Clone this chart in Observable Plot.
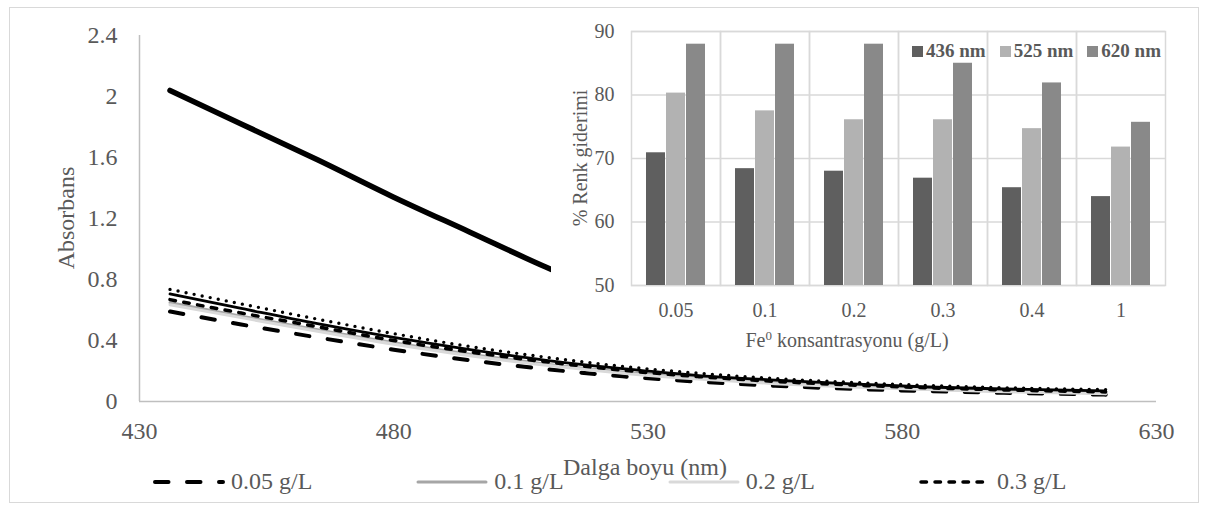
<!DOCTYPE html>
<html>
<head>
<meta charset="utf-8">
<script src="https://cdn.jsdelivr.net/npm/d3@7"></script>
<script src="https://cdn.jsdelivr.net/npm/@observablehq/plot@0.6"></script>
<style>
  html, body { margin: 0; padding: 0; background: #fff; }
  #root { position: relative; width: 1209px; height: 512px; overflow: hidden; font-family: "Liberation Serif", "Times New Roman", serif; color: #595959; }
  .abs { position: absolute; }
  #border { left: 9px; top: 7px; width: 1190px; height: 496px; border: 1px solid #d9d9d9; box-sizing: border-box; }
  #main { left: 0; top: 0; }
  #inset { left: 551px; top: 10px; background: #fff; }
  .title { white-space: nowrap; }
  #legend { left: 153px; top: 468px; display: flex; gap: 104px; align-items: center; font-size: 24px; }
  .entry { display: flex; align-items: center; }
  .entry svg { margin-right: 4px; }
  #ilegend { left: 912px; top: 40px; display: flex; gap: 14px; align-items: center; font-size: 19px; font-weight: bold; }
  .ientry { display: flex; align-items: center; }
  .sw { width: 11px; height: 11px; margin-right: 3px; }
</style>
</head>
<body>
<div id="root">
  <div id="border" class="abs"></div>
</div>
<script>
// ---- Main chart data: absorbance spectra ----
const wavelengths = [436, 450, 465, 480, 495, 510, 525, 540, 555, 570, 585, 600, 620];
const abs005 = [0.59, 0.505, 0.42, 0.34, 0.27, 0.212, 0.165, 0.13, 0.103, 0.083, 0.068, 0.057, 0.045];
const abs01  = [0.648, 0.56, 0.47, 0.385, 0.31, 0.245, 0.193, 0.153, 0.122, 0.1, 0.082, 0.068, 0.055];
const abs02  = [0.635, 0.55, 0.46, 0.375, 0.30, 0.237, 0.186, 0.147, 0.117, 0.095, 0.078, 0.064, 0.05];
const abs03  = [0.668, 0.58, 0.49, 0.40, 0.325, 0.26, 0.205, 0.163, 0.132, 0.108, 0.09, 0.076, 0.063];
const abs04  = [0.735, 0.64, 0.54, 0.445, 0.36, 0.29, 0.23, 0.185, 0.15, 0.125, 0.105, 0.09, 0.078];
const abs1   = [0.705, 0.61, 0.51, 0.42, 0.34, 0.27, 0.215, 0.17, 0.14, 0.115, 0.095, 0.082, 0.07];
const rawWavelengths = [436, 450, 465, 480, 495, 510, 520];
const absRaw = [2.04, 1.82, 1.585, 1.34, 1.11, 0.88, 0.74];
const xTicks = [430, 480, 530, 580, 630];
const yTicks = [0, 0.4, 0.8, 1.2, 1.6, 2, 2.4];
const legendNames = ["0.05 g/L", "0.1 g/L", "0.2 g/L", "0.3 g/L"];

// ---- Inset data: % colour removal ----
const concentrations = ["0.05", "0.1", "0.2", "0.3", "0.4", "1"];
const bandNames = ["436 nm", "525 nm", "620 nm"];
const removal436 = [70.9, 68.4, 68.0, 66.9, 65.4, 64.0];
const removal525 = [80.3, 77.5, 76.1, 76.1, 74.7, 71.8];
const removal620 = [88.0, 88.0, 88.0, 85.0, 81.9, 75.7];
const insetTicks = [50, 60, 70, 80, 90];

// ---- styles (kept apart from data) ----
const lineStyles = {
  "0.05 g/L": {stroke: "#000", strokeWidth: 4, strokeDasharray: "13.5,18.5"},
  "0.1 g/L":  {stroke: "#a6a6a6", strokeWidth: 3},
  "0.2 g/L":  {stroke: "#d9d9d9", strokeWidth: 3},
  "0.3 g/L":  {stroke: "#000", strokeWidth: 3.5, strokeDasharray: "5.5,8.5"},
  "0.4 g/L":  {stroke: "#000", strokeWidth: 3.4, strokeDasharray: "0,8.2"},
  "1 g/L":    {stroke: "#000", strokeWidth: 2.8},
  "raw":      {stroke: "#000", strokeWidth: 5.5}
};
const barColors = {"436 nm": "#5f5f5f", "525 nm": "#b2b2b2", "620 nm": "#898989"};

const series = [
  {name: "0.05 g/L", x: wavelengths, y: abs005},
  {name: "0.1 g/L", x: wavelengths, y: abs01},
  {name: "0.2 g/L", x: wavelengths, y: abs02},
  {name: "0.3 g/L", x: wavelengths, y: abs03},
  {name: "1 g/L", x: wavelengths, y: abs1},
  {name: "0.4 g/L", x: wavelengths, y: abs04},
  {name: "raw", x: rawWavelengths, y: absRaw}
];

const font = "'Liberation Serif', 'Times New Roman', serif";
const root = document.getElementById("root");

const main = Plot.plot({
  width: 1209, height: 512,
  marginLeft: 139, marginRight: 53, marginTop: 35, marginBottom: 111,
  style: {fontFamily: font, fontSize: "24px", color: "#595959", background: "transparent", overflow: "visible"},
  x: {domain: [430, 630], ticks: xTicks, tickSize: 0, tickPadding: 20, label: null, tickFormat: d => String(d)},
  y: {domain: [0, 2.4], ticks: yTicks, tickSize: 0, tickPadding: 22, label: null, tickFormat: d => String(+d.toFixed(1))},
  marks: [
    Plot.ruleX([430], {stroke: "#bfbfbf", strokeWidth: 1.5}),
    Plot.ruleY([0], {stroke: "#bfbfbf", strokeWidth: 1.5}),
    ...series.map(s => Plot.line(s.x.map((w, i) => ({w, a: s.y[i]})), {
      x: "w", y: "a", curve: "monotone-x", strokeLinecap: "round", strokeLinejoin: "round",
      ...lineStyles[s.name]
    }))
  ]
});
main.classList.add("abs");
main.id = "main";
root.appendChild(main);

// axis titles (main)
function addText(html, css) {
  const d = document.createElement("div");
  d.className = "abs title";
  d.innerHTML = html;
  Object.assign(d.style, css);
  root.appendChild(d);
  return d;
}
addText("Absorbans", {left: "66px", top: "218px", fontSize: "24px", transform: "translate(-50%,-50%) rotate(-90deg)"});
addText("Dalga boyu (nm)", {left: "645px", top: "467px", fontSize: "24px", transform: "translate(-50%,-50%)"});

// legend (main)
const legend = document.createElement("div");
legend.id = "legend"; legend.className = "abs";
legendNames.forEach(name => {
  const st = lineStyles[name];
  const e = document.createElement("div");
  e.className = "entry";
  e.innerHTML = `<svg width="74" height="12"><line x1="2" y1="6" x2="70" y2="6" stroke="${st.stroke}" stroke-width="${st.strokeWidth}" stroke-linecap="round" ${st.strokeDasharray ? `stroke-dasharray="${st.strokeDasharray}"` : ""}/></svg><span>${name}</span>`;
  legend.appendChild(e);
});
root.appendChild(legend);

// ---- inset bar chart ----
const barData = [];
concentrations.forEach((c, i) => {
  barData.push({c, band: bandNames[0], v: removal436[i]});
  barData.push({c, band: bandNames[1], v: removal525[i]});
  barData.push({c, band: bandNames[2], v: removal620[i]});
});

const inset = Plot.plot({
  width: 640, height: 343,
  marginLeft: 78, marginRight: 24, marginTop: 21, marginBottom: 68,
  style: {fontFamily: font, fontSize: "20px", color: "#595959", background: "#fff", overflow: "visible"},
  facet: {data: barData, x: "c"},
  fx: {domain: concentrations, padding: 0, axis: "bottom", tickSize: 0, tickPadding: 17, label: null},
  x: {domain: bandNames, paddingInner: 0.05, paddingOuter: 0.74, axis: null},
  y: {domain: [50, 90], ticks: insetTicks, tickSize: 0, tickPadding: 17, label: null},
  marks: [
    Plot.gridY(insetTicks, {stroke: "#d9d9d9", strokeOpacity: 1, strokeWidth: 1.5}),
    Plot.frame({stroke: "#d9d9d9", strokeWidth: 1.5}),
    Plot.barY(barData, {x: "band", y1: 50, y2: "v", fill: d => barColors[d.band]})
  ]
});
inset.classList.add("abs");
inset.id = "inset";
root.appendChild(inset);

addText("% Renk giderimi", {left: "580px", top: "158px", fontSize: "20px", transform: "translate(-50%,-50%) rotate(-90deg)"});
addText("Fe<sup style='font-size:13px;vertical-align:7px;line-height:0'>0</sup> konsantrasyonu (g/L)", {left: "847px", top: "340px", fontSize: "20px", transform: "translate(-50%,-50%)"});

const ilegend = document.createElement("div");
ilegend.id = "ilegend"; ilegend.className = "abs";
bandNames.forEach(b => {
  const e = document.createElement("div");
  e.className = "ientry";
  e.innerHTML = `<div class="sw" style="background:${barColors[b]}"></div><span>${b}</span>`;
  ilegend.appendChild(e);
});
root.appendChild(ilegend);
</script>
</body>
</html>
